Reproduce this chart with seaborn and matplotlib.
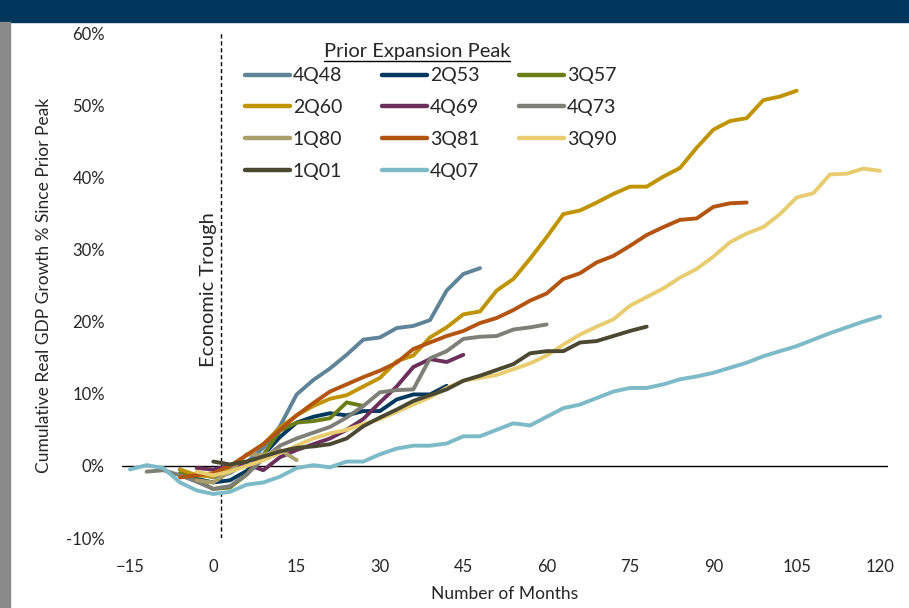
import matplotlib
matplotlib.use("Agg")

import matplotlib.pyplot as plt
import matplotlib.ticker as mticker
from matplotlib.lines import Line2D
import numpy as np
import pandas as pd
import seaborn as sns

sns.set_theme(style="white")
plt.rcParams["font.family"] = ["Lato", "DejaVu Sans"]

# ── Data: cumulative real GDP growth (%) since prior peak, quarterly ─────────
LABELS = ["4Q48", "2Q53", "3Q57", "2Q60", "4Q69", "4Q73",
          "1Q80", "3Q81", "3Q90", "1Q01", "4Q07"]
START_MONTH = [-3, -6, -6, -6, -3, -12, -3, -6, -3, 0, -15]

g_4q48 = [-1.0, -1.6, -1.0, 0.5, 2.5, 5.5, 9.9, 11.9, 13.5, 15.4, 17.5,
          17.8, 19.1, 19.4, 20.2, 24.3, 26.6, 27.4]
g_2q53 = [-0.5, -1.8, -2.3, -2.0, -0.7, 1.5, 4.0, 6.0, 6.8, 7.3, 7.0, 7.6,
          7.6, 9.2, 9.9, 9.9, 11.1]
g_3q57 = [-1.0, -2.0, -3.2, -3.0, -1.2, 1.5, 4.9, 6.0, 6.2, 6.6, 8.8, 8.3]
g_2q60 = [-0.5, -1.3, -1.5, -0.3, 1.5, 3.0, 5.3, 7.0, 8.3, 9.3, 9.8, 11.0,
          12.2, 14.5, 15.3, 17.8, 19.2, 21.0, 21.4, 24.3, 25.9, 28.7, 31.7,
          34.9, 35.4, 36.5, 37.7, 38.7, 38.7, 40.1, 41.3, 44.1, 46.6, 47.8,
          48.2, 50.7, 51.2, 52.0]
g_4q69 = [-0.3, -0.5, 0.0, 0.2, -0.6, 1.2, 2.2, 3.0, 3.8, 5.0, 6.5, 8.8,
          11.0, 13.7, 14.8, 14.4, 15.4]
g_4q73 = [-0.8, -0.6, -1.3, -2.2, -3.2, -2.8, -1.2, 1.0, 2.8, 3.8, 4.6, 5.4,
          6.7, 8.3, 10.2, 10.5, 10.6, 14.9, 15.9, 17.6, 17.9, 18.0, 18.9,
          19.2, 19.6]
g_1q80 = [-2.0, -2.3, -0.8, 1.6, 1.5, 2.2, 0.8]
g_3q81 = [-1.6, -1.3, -1.0, 0.0, 1.5, 3.0, 5.0, 7.0, 8.7, 10.3, 11.3, 12.3,
          13.2, 14.3, 16.2, 17.1, 18.0, 18.7, 19.8, 20.5, 21.6, 22.9, 23.9,
          25.9, 26.7, 28.2, 29.1, 30.5, 32.0, 33.1, 34.1, 34.3, 35.9, 36.4,
          36.5]
g_3q90 = [-0.8, -1.3, -0.8, 0.0, 0.8, 1.8, 2.8, 3.8, 4.5, 5.0, 5.8, 6.5,
          7.5, 8.5, 9.5, 10.8, 11.8, 12.2, 12.6, 13.4, 14.2, 15.3, 16.8,
          18.2, 19.3, 20.3, 22.2, 23.4, 24.6, 26.1, 27.3, 29.0, 31.0, 32.2,
          33.1, 34.9, 37.2, 37.8, 40.4, 40.5, 41.2, 40.9]
g_1q01 = [0.6, 0.2, 0.6, 1.3, 2.0, 2.5, 2.7, 3.0, 3.8, 5.5, 6.7, 7.8, 9.0,
          9.8, 10.6, 11.8, 12.5, 13.3, 14.1, 15.6, 15.9, 15.9, 17.1, 17.3,
          18.0, 18.7, 19.3]
g_4q07 = [-0.5, 0.1, -0.3, -2.3, -3.4, -3.9, -3.6, -2.6, -2.3, -1.5, -0.3,
          0.1, -0.2, 0.6, 0.6, 1.6, 2.4, 2.8, 2.8, 3.1, 4.1, 4.1, 5.0, 5.9,
          5.6, 6.8, 8.0, 8.5, 9.4, 10.3, 10.8, 10.8, 11.3, 12.0, 12.4, 12.9,
          13.6, 14.3, 15.2, 15.9, 16.6, 17.5, 18.4, 19.2, 20.0, 20.7]

SERIES = [g_4q48, g_2q53, g_3q57, g_2q60, g_4q69, g_4q73,
          g_1q80, g_3q81, g_3q90, g_1q01, g_4q07]
COLORS = ["#5F8497", "#00385F", "#6B7D15", "#C09300", "#6C2F5C", "#7E7F77",
          "#A99E6B", "#B35410", "#E8CC70", "#4A4831", "#7DBAC8"]

rows = []
for lab, start, vals in zip(LABELS, START_MONTH, SERIES):
    for i, v in enumerate(vals):
        rows.append({"peak": lab, "month": start + 3 * i, "growth": v})
df = pd.DataFrame(rows)

# ── Figure ───────────────────────────────────────────────────────────────────
fig = plt.figure(figsize=(9.09, 6.08), dpi=100)
ax = fig.add_axes([0.1338, 0.1151, 0.8435, 0.8306])

# frame decorations: navy banner on top, gray bar on the left
fig.patches.append(plt.Rectangle((0, 1 - 22 / 608), 1, 22 / 608,
                                 transform=fig.transFigure, color="#00355C"))
fig.patches.append(plt.Rectangle((0, 0), 10 / 909, 1 - 22 / 608,
                                 transform=fig.transFigure, color="#8A8A8A"))

sns.lineplot(data=df, x="month", y="growth", hue="peak", hue_order=LABELS,
             palette=COLORS, linewidth=2.8, sort=False, estimator=None,
             legend=False, ax=ax)

ax.axhline(0, color="black", lw=1.0, zorder=1)
ax.axvline(1.4, color="black", lw=1.0, ls=(0, (3, 2)), zorder=1)
ax.text(-0.8, 24.5, "Economic Trough", rotation=90, ha="center", va="center",
        fontsize=14.5)

ax.set_xlim(-16.5, 121.5)
ax.set_ylim(-10, 60)
ax.set_xticks(np.arange(-15, 121, 15))
ax.set_yticks(np.arange(-10, 61, 10))
ax.yaxis.set_major_formatter(mticker.FuncFormatter(lambda v, _: f"{v:.0f}%"))
ax.tick_params(axis="both", length=0, labelsize=12)
ax.tick_params(axis="x", pad=15)
ax.tick_params(axis="y", pad=12)
for s in ax.spines.values():
    s.set_visible(False)
ax.set_xlabel("Number of Months", fontsize=12.5, labelpad=8)
ax.set_ylabel("Cumulative Real GDP Growth % Since Prior Peak", fontsize=12.5,
              labelpad=10)

# legend filled row by row (matplotlib fills column by column)
order = [0, 3, 6, 9, 1, 4, 7, 10, 2, 5, 8]
handles = [Line2D([], [], color=COLORS[i], lw=3.2, solid_capstyle="round")
           for i in order]
ax.legend(handles, [LABELS[i] for i in order], ncol=3, frameon=False,
          loc="upper left", bbox_to_anchor=(0.161, 0.932), borderpad=0,
          borderaxespad=0, fontsize=14, handlelength=2.3, handletextpad=0.15,
          columnspacing=2.05, labelspacing=0.76)

title = fig.text(417 / 909, 1 - 51 / 608, "Prior Expansion Peak",
                 ha="center", va="center", fontsize=14.5)
fig.canvas.draw()
bb = title.get_window_extent().transformed(fig.transFigure.inverted())
fig.add_artist(Line2D([bb.x0, bb.x1], [bb.y0 - 0.002, bb.y0 - 0.002],
                      transform=fig.transFigure, color="black", lw=1.0))

fig.savefig("out.png", dpi=100)
